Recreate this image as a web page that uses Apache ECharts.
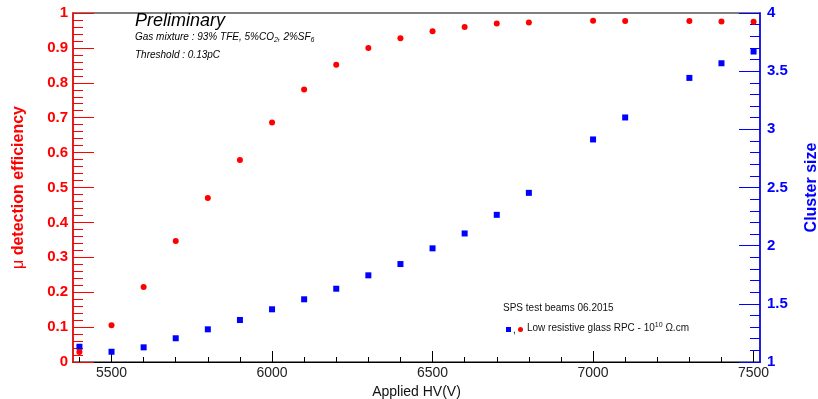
<!DOCTYPE html>
<html>
<head>
<meta charset="utf-8">
<script src="https://cdn.jsdelivr.net/npm/echarts@6/dist/echarts.min.js"></script>
<style>
html,body{margin:0;padding:0;background:#fff;}
#chart{width:818px;height:399px;}
</style>
</head>
<body>
<div id="chart"></div>
<script>
// Applied HV (V)
const hv = [5400, 5500, 5600, 5700, 5800, 5900, 6000, 6100, 6200, 6300, 6400, 6500, 6600, 6700, 6800, 7000, 7100, 7300, 7400, 7500];
// mu detection efficiency (left axis)
const efficiency = [0.029, 0.105, 0.215, 0.347, 0.470, 0.579, 0.686, 0.781, 0.852, 0.900, 0.928, 0.948, 0.960, 0.970, 0.973, 0.978, 0.977, 0.977, 0.976, 0.975];
// cluster size (right axis)
const clusterSize = [1.131, 1.088, 1.126, 1.204, 1.281, 1.361, 1.453, 1.539, 1.630, 1.745, 1.842, 1.977, 2.105, 2.265, 2.454, 2.913, 3.102, 3.442, 3.568, 3.669];
// x tick labels / ticks
const xLabelTicks = [5500, 6000, 6500, 7000, 7500];
const xMinorTicks = [5400, 5500, 5600, 5700, 5800, 5900, 6000, 6100, 6200, 6300, 6400, 6500, 6600, 6700, 6800, 6900, 7000, 7100, 7200, 7300, 7400, 7500];

const FONT = 'Liberation Sans, Arial, Helvetica, sans-serif';
const RED = '#ff0000';
const BLUE = '#0000ff';

const chart = echarts.init(document.getElementById('chart'), null, {renderer: 'canvas'});

const option = {
  animation: false,
  backgroundColor: '#ffffff',
  grid: {left: 73, right: 58, top: 13, bottom: 37, containLabel: false, outerBoundsMode: 'none',
    show: true, borderColor: '#555555', borderWidth: 1.5, backgroundColor: 'transparent'},
  xAxis: [
    {
      type: 'value', min: 5380, max: 7520, position: 'bottom',
      name: 'Applied HV(V)', nameLocation: 'middle', nameGap: 13,
      nameTextStyle: {fontFamily: FONT, fontSize: 14, color: '#111'},
      axisLine: {show: true, onZero: false, lineStyle: {color: '#000', width: 1.2}},
      axisTick: {show: true, inside: true, length: 11, customValues: xLabelTicks, lineStyle: {color: '#000', width: 1}},
      axisLabel: {show: true, customValues: xLabelTicks, margin: 4, fontFamily: FONT, fontSize: 14, color: '#222',
        formatter: v => String(v)},
      splitLine: {show: false}
    },
    {
      type: 'value', min: 5380, max: 7520, position: 'bottom', offset: 0,
      axisLine: {show: false, onZero: false},
      axisTick: {show: true, inside: true, length: 5, customValues: xMinorTicks, lineStyle: {color: '#000', width: 1}},
      axisLabel: {show: false},
      splitLine: {show: false}
    }
  ],
  yAxis: [
    {
      type: 'value', min: 0, max: 1, interval: 0.1, position: 'left',
      name: '{mu|μ} detection efficiency', nameLocation: 'middle', nameGap: 46, nameRotate: 90,
      nameTextStyle: {fontFamily: FONT, fontSize: 16, fontWeight: 'bold', color: RED,
        rich: {mu: {fontFamily: FONT, fontSize: 16, fontWeight: 'normal', color: RED}}},
      axisLine: {show: true, onZero: false, lineStyle: {color: RED, width: 1.5}},
      axisTick: {show: true, inside: true, length: 21, lineStyle: {color: RED, width: 1}},
      minorTick: {show: true, splitNumber: 5, length: 10, lineStyle: {color: RED, width: 1}},
      axisLabel: {margin: 5, fontFamily: FONT, fontSize: 15, fontWeight: 'bold', color: RED,
        formatter: v => (Math.round(v * 10) / 10).toString()},
      splitLine: {show: false}
    },
    {
      type: 'value', min: 1, max: 4, interval: 0.5, position: 'right',
      name: 'Cluster size', nameLocation: 'middle', nameGap: 44, nameRotate: 90,
      nameTextStyle: {fontFamily: FONT, fontSize: 16, fontWeight: 'bold', color: BLUE},
      axisLine: {show: true, onZero: false, lineStyle: {color: BLUE, width: 1.5}},
      axisTick: {show: true, inside: true, length: 21, lineStyle: {color: BLUE, width: 1}},
      minorTick: {show: true, splitNumber: 5, length: 10, lineStyle: {color: BLUE, width: 1}},
      axisLabel: {margin: 7, fontFamily: FONT, fontSize: 15, fontWeight: 'bold', color: BLUE,
        formatter: v => (Math.round(v * 10) / 10).toString()},
      splitLine: {show: false}
    }
  ],
  series: [
    {
      name: 'Cluster size', type: 'scatter', xAxisIndex: 0, yAxisIndex: 1,
      symbol: 'rect', symbolSize: 6,
      itemStyle: {color: BLUE, opacity: 1},
      data: hv.map((x, i) => [x, clusterSize[i]])
    },
    {
      name: 'Efficiency', type: 'scatter', xAxisIndex: 0, yAxisIndex: 0,
      symbol: 'circle', symbolSize: 6,
      itemStyle: {color: RED, opacity: 1},
      data: hv.map((x, i) => [x, efficiency[i]])
    }
  ],
  graphic: [
    {type: 'text', left: 135, top: 12, style: {text: 'Preliminary', font: 'italic 18px ' + FONT, fill: '#000'}},
    {type: 'text', left: 135, top: 32, style: {
      text: 'Gas mixture : 93% TFE, 5%CO{sub|2}, 2%SF{sub|6}',
      font: 'italic 10px ' + FONT, fill: '#000',
      rich: {sub: {fontSize: 7, fontStyle: 'italic', fontFamily: FONT, padding: [6, 0, 0, 0], fill: '#000'}}
    }},
    {type: 'text', left: 135, top: 50, style: {text: 'Threshold : 0.13pC', font: 'italic 10px ' + FONT, fill: '#000'}},
    {type: 'text', left: 503, top: 303, style: {text: 'SPS test beams 06.2015', font: '10px ' + FONT, fill: '#111'}},
    {type: 'rect', left: 506, top: 327, shape: {width: 5, height: 5}, style: {fill: BLUE}},
    {type: 'text', left: 513, top: 325, style: {text: ',', font: '10px ' + FONT, fill: '#111'}},
    {type: 'circle', left: 518, top: 327, shape: {r: 2.5}, style: {fill: RED}},
    {type: 'text', left: 527, top: 322, style: {
      text: 'Low resistive glass RPC - 10{sup|10} Ω.cm',
      font: '10px ' + FONT, fill: '#111',
      rich: {sup: {fontSize: 7, fontFamily: FONT, padding: [0, 0, 6, 0], fill: '#111'}}
    }}
  ]
};

chart.setOption(option);
</script>
</body>
</html>
